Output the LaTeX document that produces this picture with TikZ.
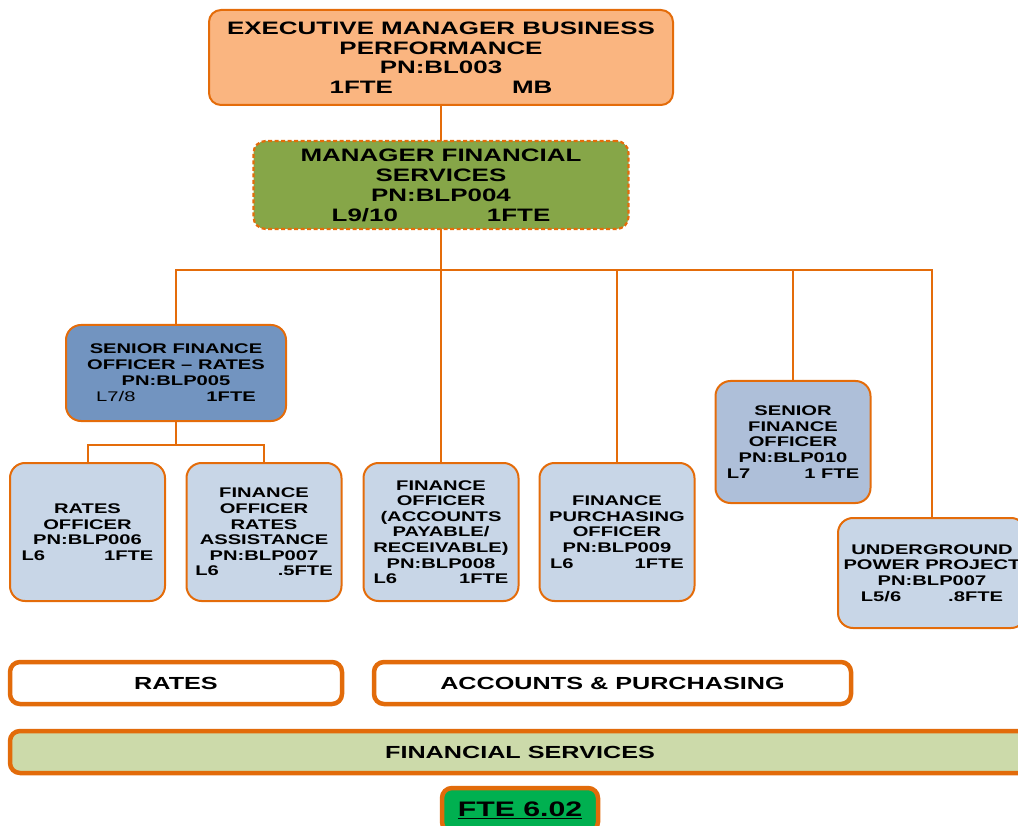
\documentclass[tikz,border=0pt]{standalone}
\usepackage{fontspec}
\usepackage{xcolor}
\usepackage{tikz}
\newfontfamily\orgfont[FakeStretch=1.44]{Liberation Sans}
\usetikzlibrary{positioning}
\definecolor{orgorange}{RGB}{228,108,10}
\definecolor{barorange}{RGB}{226,107,10}
\definecolor{execfill}{RGB}{250,181,128}
\definecolor{mgrgreen}{RGB}{134,166,72}
\definecolor{sratesblue}{RGB}{114,148,192}
\definecolor{lowfill}{RGB}{200,214,231}
\definecolor{sfofill}{RGB}{174,191,217}
\definecolor{fsgreen}{RGB}{204,218,170}
\definecolor{ftegreen}{RGB}{0,176,80}

\begin{document}
\begin{tikzpicture}[
    x=1pt, y=-1pt,
    every node/.style={align=center, inner sep=0pt, outer sep=0pt},
    link/.style={draw=orgorange, line width=2pt},
    topbox/.style={rectangle, rounded corners=12pt, draw=orgorange, fill=execfill, line width=2pt, minimum width=464pt, minimum height=95pt, font=\orgfont\bfseries\fontsize{18}{19.5}\selectfont},
    mgrbox/.style={rectangle, rounded corners=12pt, draw=orgorange, fill=mgrgreen, line width=2.2pt, dash pattern=on 4pt off 2.5pt, minimum width=375pt, minimum height=88pt, font=\orgfont\bfseries\fontsize{18}{20}\selectfont},
    ratesbox/.style={rectangle, rounded corners=15pt, draw=orgorange, fill=sratesblue, line width=2pt, minimum width=220pt, minimum height=96pt, font=\orgfont\bfseries\fontsize{14}{16}\selectfont},
    lowbox/.style={rectangle, rounded corners=15pt, draw=orgorange, fill=lowfill, line width=2pt, minimum width=155pt, minimum height=138pt, font=\orgfont\bfseries\fontsize{14}{15.6}\selectfont},
    barbox/.style={rectangle, rounded corners=10pt, draw=barorange, fill=white, line width=4.5pt, minimum height=42pt, font=\orgfont\bfseries\fontsize{17.5}{19}\selectfont}
]
\useasboundingbox (0,0) rectangle (1018,826);

% Top of the chart
\node[topbox] (exec) at (441,57.5) {EXECUTIVE MANAGER BUSINESS\\PERFORMANCE\\PN:BL003\\1FTE\hspace{119pt}MB};
\node[mgrbox] (mgr) at (441,185) {MANAGER FINANCIAL\\SERVICES\\PN:BLP004\\L9/10\hspace{89pt}1FTE};

% Staff boxes
\node[ratesbox] (srates) at (176,373) {SENIOR FINANCE\\OFFICER – RATES\\PN:BLP005\\{\mdseries L7/8}\hspace{71pt}1FTE};
\node[lowbox] (ratesoff) at (87.5,532) {RATES\\OFFICER\\PN:BLP006\\L6\hspace{59pt}1FTE};
\node[lowbox] (ratesast) at (264,532) {FINANCE\\OFFICER\\RATES\\ASSISTANCE\\PN:BLP007\\L6\hspace{59pt}.5FTE};
\node[lowbox] (acctoff) at (441,532) {FINANCE\\OFFICER\\(ACCOUNTS\\PAYABLE/\\RECEIVABLE)\\PN:BLP008\\L6\hspace{62pt}1FTE};
\node[lowbox] (purchoff) at (617,532) {FINANCE\\PURCHASING\\OFFICER\\PN:BLP009\\L6\hspace{61pt}1FTE};
\node[lowbox, fill=sfofill, minimum height=122pt] (sfo) at (793,442) {SENIOR\\FINANCE\\OFFICER\\PN:BLP010\\L7\hspace{54pt}1 FTE};
\node[lowbox, minimum width=188pt, minimum height=110pt] (ugp) at (932,573) {UNDERGROUND\\POWER PROJECT\\PN:BLP007\\L5/6\hspace{47pt}.8FTE};

% Connectors
\coordinate (bus) at (441,270);
\coordinate (rbus) at (176,445);
\draw[link] (exec) -- (mgr);
\draw[link] (mgr) -- (bus);
\draw[link] (bus) -| (srates);
\draw[link] (bus) -- (acctoff);
\draw[link] (bus) -| (purchoff);
\draw[link] (bus) -| (sfo);
\draw[link] (bus) -| (ugp);
\draw[link] (srates) -- (rbus);
\draw[link] (rbus) -| (ratesoff);
\draw[link] (rbus) -| (ratesast);

% Section bars
\node[barbox, minimum width=332pt] (rates) at (176,683) {RATES};
\node[barbox, minimum width=477pt] (acct) at (612.5,683) {ACCOUNTS \& PURCHASING};
\node[barbox, fill=fsgreen, minimum width=1020pt] (fs) at (520,752) {FINANCIAL SERVICES};
\node[barbox, fill=ftegreen, minimum width=156pt, minimum height=44pt, font=\orgfont\bfseries\fontsize{21}{22}\selectfont] (fte) at (520,810) {\underline{FTE 6.02}};

\end{tikzpicture}
\end{document}
